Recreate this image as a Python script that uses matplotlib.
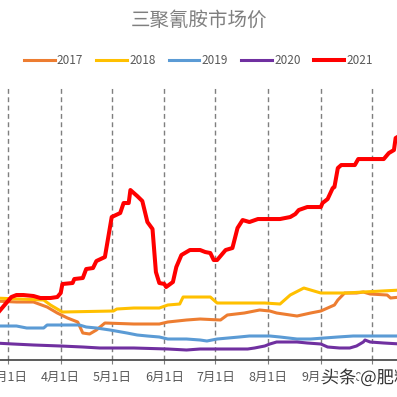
import pandas as pd
import matplotlib.pyplot as plt
import matplotlib.dates as mdates
import matplotlib.patheffects as pe

plt.rcParams['font.family'] = ['Noto Sans CJK SC', 'DejaVu Sans']

# 三聚氰胺价格 (元/吨), 按日期读取
d2017 = ['02-21', '03-06', '03-16', '03-24', '03-30', '04-05', '04-11', '04-14', '04-18',
         '04-22', '04-27', '05-14', '05-29', '06-03', '06-14', '06-22', '07-04', '07-08',
         '07-18', '07-27', '08-02', '08-06', '08-14', '08-18', '08-26', '09-01', '09-05',
         '09-09', '09-11', '09-15', '09-22', '09-26', '09-30', '10-10', '10-12', '10-18']
v2017 = [7450, 7400, 7400, 7150, 6850, 6600, 6400, 5850, 5800,
         6000, 6350, 6300, 6300, 6400, 6500, 6550, 6500, 6750,
         6850, 7000, 6950, 6850, 6750, 6700, 6850, 6950, 7100,
         7250, 7500, 7850, 7850, 7900, 7800, 7750, 7600, 7650]

d2018 = ['02-21', '03-22', '03-26', '04-02', '05-02', '05-04', '05-14', '05-29', '06-03',
         '06-10', '06-12', '06-28', '07-02', '07-30', '08-08', '08-14', '08-22', '09-01',
         '09-16', '09-26', '10-18']
v2018 = [7600, 7500, 7250, 6900, 6950, 7050, 7100, 7100, 7250,
         7300, 7650, 7650, 7350, 7350, 7300, 7750, 8100, 7850,
         7850, 7900, 8000]

d2019 = ['02-21', '03-06', '03-12', '03-22', '03-24', '04-12', '04-16', '04-22', '04-30',
         '05-10', '05-16', '05-22', '05-29', '06-03', '06-14', '06-22', '06-26', '07-02',
         '07-15', '07-21', '08-02', '08-08', '08-18', '08-26', '09-03', '09-11', '09-20',
         '10-18']
v2019 = [6200, 6200, 6100, 6100, 6250, 6250, 6150, 6100, 6000,
         5850, 5750, 5700, 5650, 5550, 5550, 5500, 5450, 5550,
         5650, 5700, 5700, 5650, 5550, 5550, 5600, 5650, 5700,
         5700]

d2020 = ['02-21', '03-04', '03-16', '04-01', '04-14', '04-24', '05-14', '06-03', '06-14',
         '06-22', '07-20', '07-24', '07-30', '08-02', '08-06', '08-18', '08-24', '09-01',
         '09-05', '09-12', '09-18', '09-22', '09-26', '09-27', '09-30', '10-08', '10-18']
v2020 = [5350, 5300, 5250, 5200, 5150, 5100, 5100, 5050, 5000,
         5050, 5050, 5100, 5200, 5300, 5400, 5400, 5350, 5300,
         5150, 5100, 5100, 5200, 5400, 5500, 5400, 5350, 5300]

d2021 = ['02-22', '02-28', '03-03', '03-06', '03-10', '03-16', '03-20', '03-26', '03-30',
         '04-01', '04-02', '04-08', '04-09', '04-14', '04-16', '04-20', '04-22', '04-27',
         '04-29', '05-01', '05-06', '05-08', '05-11', '05-12', '05-16', '05-19', '05-22',
         '05-25', '05-27', '05-29', '06-01', '06-02', '06-06', '06-08', '06-11', '06-16',
         '06-22', '06-25', '06-28', '06-30', '07-02', '07-07', '07-11', '07-14', '07-17',
         '07-21', '07-26', '08-08', '08-14', '08-17', '08-19', '08-24', '09-01', '09-02',
         '09-05', '09-08', '09-09', '09-11', '09-13', '09-21', '09-23', '10-08', '10-11',
         '10-14', '10-15', '10-18']
v2021 = [6750, 7350, 7650, 7750, 7750, 7700, 7600, 7600, 7650,
         7850, 8300, 8350, 8550, 8600, 9050, 9100, 9450, 9650,
         10650, 11650, 11850, 12350, 12350, 13000, 12700, 12450, 11400,
         11050, 8900, 8350, 8300, 8150, 8400, 9150, 9750, 10000,
         10000, 9900, 9850, 9500, 9500, 10000, 10100, 11100, 11500,
         11400, 11550, 11550, 11650, 11800, 12000, 12150, 12150, 12350,
         12550, 13100, 13150, 14100, 14250, 14250, 14550, 14550, 14850,
         15000, 15600, 15750]

months = ['03', '04', '05', '06', '07', '08', '09', '10']
month_labels = ['3月1日', '4月1日', '5月1日', '6月1日', '7月1日', '8月1日', '9月1日', '10月1日']


def to_dates(days):
    return pd.to_datetime(['2021-' + s for s in days])


fig = plt.figure(figsize=(3.97, 3.97), dpi=100)
ax = fig.add_axes([0, 0.0932, 1, 0.685])

ax.plot(to_dates(d2017), v2017, color='#ED7D31', lw=2.2, label='2017')
ax.plot(to_dates(d2018), v2018, color='#FFC000', lw=2.2, label='2018')
ax.plot(to_dates(d2019), v2019, color='#5B9BD5', lw=2.2, label='2019')
ax.plot(to_dates(d2020), v2020, color='#7030A0', lw=2.2, label='2020')
ax.plot(to_dates(d2021), v2021, color='#FF0000', lw=2.9, label='2021')

mar1 = mdates.date2num(pd.Timestamp('2021-03-01'))
ax.set_xlim(mar1 - 4.7, mar1 + 228.8)
ax.set_ylim(4500, 18100)

ticks = pd.to_datetime(['2021-' + m + '-01' for m in months])
ax.set_xticks(ticks)
ax.set_xticklabels(month_labels, fontsize=9, color='#595959')
ax.set_yticks([])
ax.grid(axis='x', color='#7F7F7F', lw=1.0, linestyle=(0, (3.5, 2.5)))
ax.tick_params(axis='x', length=3, color='#7F7F7F', pad=5)
for s in ['left', 'right', 'top']:
    ax.spines[s].set_visible(False)
ax.spines['bottom'].set_color('#404040')
ax.spines['bottom'].set_linewidth(1.2)

fig.text(0.5, 0.948, '三聚氰胺市场价', ha='center', va='center', fontsize=14, color='#7F7F7F')
fig.legend(loc='center', bbox_to_anchor=(0.5, 0.848), ncol=5, frameon=False,
           fontsize=8.5, handlelength=2.6, handletextpad=0.2, columnspacing=1.1,
           labelcolor='#595959')

fig.text(0.81, 0.048, '头条 @肥料', ha='left', va='center', fontsize=12.5, color='#333333',
         path_effects=[pe.withStroke(linewidth=3, foreground='white')])

fig.savefig('out.png', dpi=100)
